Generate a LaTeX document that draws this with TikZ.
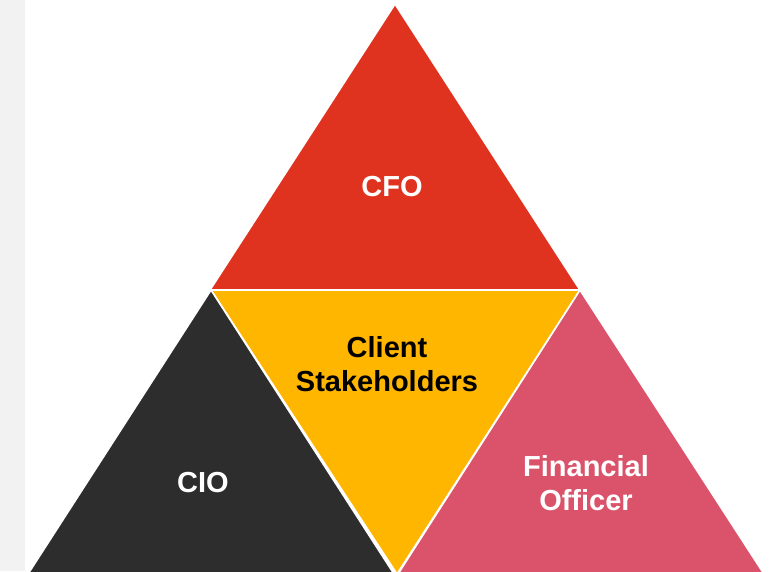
\documentclass[tikz,border=0pt]{standalone}
\usepackage{fontspec}
\setmainfont{Liberation Sans}
\begin{document}
\begin{tikzpicture}[x=1pt,y=-1pt,
  tri/.style={draw=white,line width=1.6pt,line join=miter},
  lab/.style={font=\fontsize{29}{34}\selectfont\bfseries,align=center,text=white}]
\definecolor{cred}{HTML}{E0331F}
\definecolor{cyel}{HTML}{FFB600}
\definecolor{cdark}{HTML}{2D2D2D}
\definecolor{cpink}{HTML}{DB536B}
\definecolor{cgray}{HTML}{F2F2F2}
\useasboundingbox (0,0) rectangle (780,571);
\fill[white] (0,0) rectangle (780,571);
\fill[cgray] (0,0) rectangle (25,571);
\begin{scope}
\clip (25,0) rectangle (780,571);
\fill[cred,tri] (395,4) -- (580,290) -- (210,290) -- cycle;
\fill[cyel,tri] (211,290) -- (580,290) -- (397,574) -- cycle;
\fill[cdark,tri] (211,290) -- (394,574) -- (28,574) -- cycle;
\fill[cpink,tri] (580,290) -- (764,574) -- (398,574) -- cycle;
\end{scope}
\node[lab] (cfo) at (392,187) {CFO};
\node[lab,text=black] (cs) at (387,364) {Client\\Stakeholders};
\node[lab] (cio) at (203,483) {CIO};
\node[lab] (fo) at (586,483) {Financial\\Officer};
\end{tikzpicture}
\end{document}
